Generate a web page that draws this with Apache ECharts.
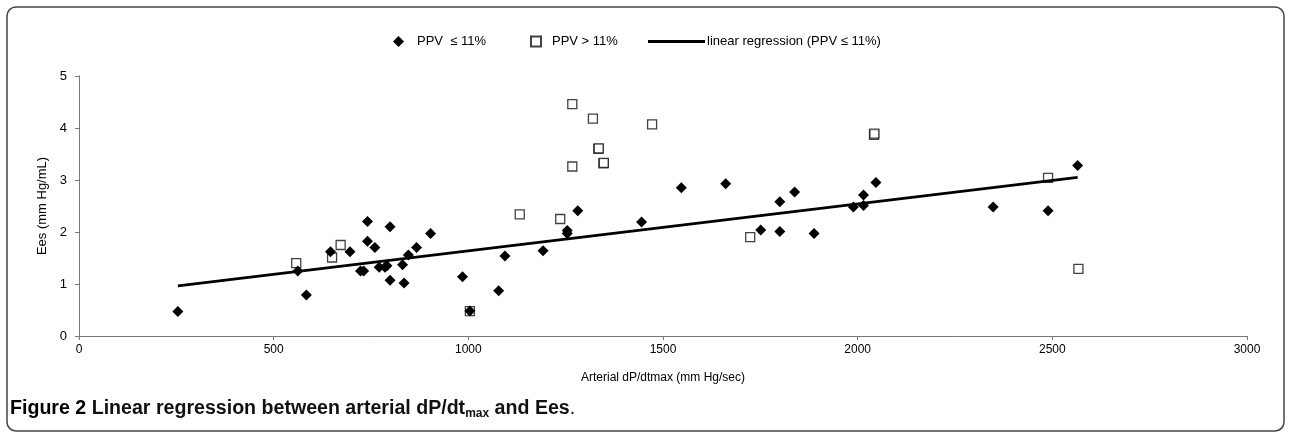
<!DOCTYPE html>
<html>
<head>
<meta charset="utf-8">
<script src="https://cdn.jsdelivr.net/npm/echarts@6/dist/echarts.min.js"></script>
<style>html,body{margin:0;padding:0;background:#fff}#c{width:1289px;height:435px}</style>
</head>
<body>
<div id="c"></div>
<script>
// PPV <= 11% (filled diamonds): [dP/dtmax, Ees]
const lowPPV = [
  [254,0.47],[562,1.25],[584,0.79],[646,1.62],[696,1.62],[723,1.25],[731,1.25],
  [741,2.20],[741,1.82],[760,1.70],[771,1.32],[786,1.32],[791,1.35],[799,2.10],
  [799,1.07],[831,1.37],[835,1.02],[846,1.56],[867,1.70],[903,1.97],[985,1.14],
  [1004,0.48],[1078,0.87],[1094,1.54],[1192,1.64],[1254,2.03],[1254,1.97],[1281,2.41],
  [1445,2.19],[1547,2.85],[1661,2.93],[1751,2.04],[1800,2.58],[1800,2.01],[1838,2.77],
  [1888,1.97],[1989,2.48],[2015,2.51],[2015,2.71],[2047,2.95],[2348,2.48],[2489,2.41],
  [2565,3.28]
];
// PPV > 11% (open squares)
const highPPV = [
  [558,1.40],[650,1.51],[672,1.75],[1004,0.48],[1132,2.34],[1236,2.25],[1267,4.46],
  [1320,4.18],[1334,3.60],[1335,3.61],[1347,3.32],[1348,3.33],[1267,3.26],[1472,4.07],
  [1724,1.90],[2042,3.87],[2043,3.89],[2489,3.04],[2567,1.29]
];
// regression (PPV <= 11%)
const regSlope = 0.000903;
const regIntercept = 0.734;
const xTicks = [0,500,1000,1500,2000,2500,3000];
const yTicks = [0,1,2,3,4,5];

const xs = lowPPV.map(p => p[0]);
const xMin = Math.min(...xs), xMax = Math.max(...xs);
const regLine = [xMin, xMax].map(x => [x, regIntercept + regSlope * x]);

const nameLow = 'PPV  \u2264 11%';
const nameHigh = 'PPV > 11%';
const nameReg = 'linear regression (PPV \u2264 11%)';
const FONT = '"Liberation Sans", Arial, sans-serif';

const chart = echarts.init(document.getElementById('c'), null, {renderer:'canvas'});
chart.setOption({
  animation: false,
  backgroundColor: '#fff',
  grid: {left: 79, right: 42, top: 76, bottom: 99, containLabel: false},
  xAxis: {
    type: 'value', min: xTicks[0], max: xTicks[xTicks.length-1], interval: 500,
    splitLine: {show:false},
    axisLine: {lineStyle:{color:'#777', width:1}},
    axisTick: {show:true, inside:false, length:4, lineStyle:{color:'#777'}},
    axisLabel: {color:'#000', fontFamily: FONT, fontSize: 12, margin: 8, formatter: v => String(v)},
    name: 'Arterial dP/dtmax (mm Hg/sec)', nameLocation: 'middle', nameGap: 36,
    nameTextStyle: {color:'#000', fontFamily: FONT, fontSize: 12}
  },
  yAxis: {
    type: 'value', min: yTicks[0], max: yTicks[yTicks.length-1], interval: 1,
    splitLine: {show:false},
    axisLine: {show:true, lineStyle:{color:'#777', width:1}},
    axisTick: {show:true, inside:false, length:4, lineStyle:{color:'#777'}},
    axisLabel: {color:'#000', fontFamily: FONT, fontSize: 13, margin: 12},
    name: 'Ees (mm Hg/mL)', nameLocation: 'middle', nameGap: 23, nameRotate: 90,
    nameTextStyle: {color:'#000', fontFamily: FONT, fontSize: 13}
  },
  legend: [
    {data:[nameLow], left: 388, top: 30, padding: 5, itemWidth: 11, itemHeight: 11, itemGap: 0,
     textStyle:{color:'#000', fontFamily: FONT, fontSize: 13, padding:[0,0,0,8]}},
    {data:[nameHigh], left: 525, top: 30, padding: 5, itemWidth: 10, itemHeight: 10, itemGap: 0,
     textStyle:{color:'#000', fontFamily: FONT, fontSize: 13, padding:[0,0,0,6]}},
    {data:[{name:nameReg, icon:'rect'}], left: 643, top: 30, padding: 5, itemWidth: 57, itemHeight: 3, itemGap: 0,
     textStyle:{color:'#000', fontFamily: FONT, fontSize: 13, padding:[0,0,0,-3]}}
  ],
  series: [
    {name: nameHigh, type: 'scatter', data: highPPV, symbol: 'rect', symbolSize: 9, z: 2,
     itemStyle: {color:'#fff', borderColor:'#111', borderWidth:1.3}},
    {name: nameLow, type: 'scatter', data: lowPPV, symbol: 'diamond', symbolSize: 11, z: 3,
     itemStyle: {color:'#000', opacity: 1}},
    {name: nameReg, type: 'line', data: regLine, symbol: 'none', z: 4,
     lineStyle: {color:'#000', width: 2.6}, itemStyle:{color:'#000'}}
  ],
  graphic: [
    {type:'rect', shape:{x:7, y:7, width:1277, height:424, r:9}, silent:true,
     style:{fill:null, stroke:'#444', lineWidth:1.5}},
    {type:'text', left: 10, top: 399, silent:true,
     style:{
       text: '{b|Figure 2 }{s|Linear regression between arterial dP/dt}{sub|max}{s| and Ees}{n|.}',
       rich: {
         b: {fontFamily: FONT, fontWeight:'bold', fontSize: 19.6, fill:'#000'},
         s: {fontFamily: FONT, fontWeight:'bold', fontSize: 19.6, fill:'#111'},
         sub: {fontFamily: FONT, fontWeight:'bold', fontSize: 12, fill:'#111', verticalAlign:'bottom', padding:[10,0,0,0]},
         n: {fontFamily: FONT, fontSize: 19.6, fill:'#111'}
       }
     }}
  ]
});
</script>
</body>
</html>
